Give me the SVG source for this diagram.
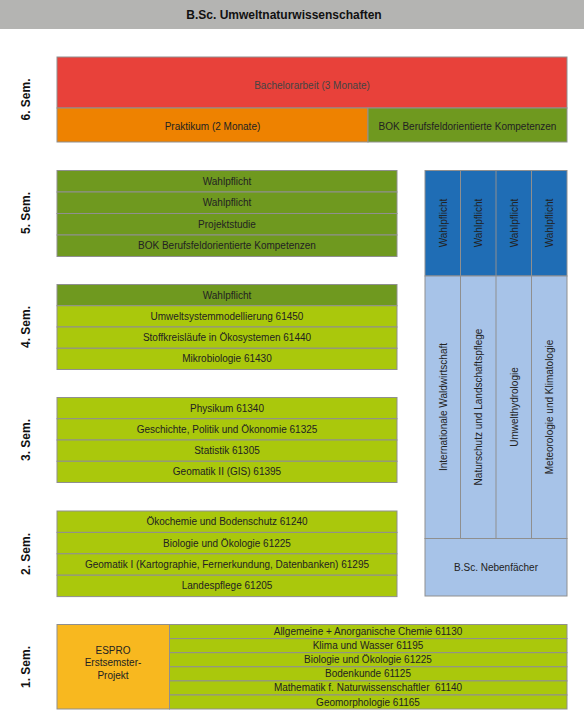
<svg xmlns="http://www.w3.org/2000/svg" width="584" height="710" viewBox="0 0 584 710">
<style>
text{font-family:"Liberation Sans",Arial,sans-serif;fill:#222;}
.t{font-size:10px;text-anchor:middle;}
.sem{font-size:12px;font-weight:bold;text-anchor:middle;fill:#111;}
.title{font-size:12px;font-weight:bold;text-anchor:middle;fill:#111;}
rect{stroke:#8f8f8f;stroke-width:1;}
.red{fill:#e8413a;}
.org{fill:#ee8200;}
.dg{fill:#6f991f;}
.lg{fill:#aac80c;}
.bl{fill:#1f6db5;}
.lb{fill:#a7c3e8;}
.yl{fill:#f8b81f;}
.ln{stroke:#8f8f8f;stroke-width:1;fill:none;}
</style>
<rect x="0" y="0" width="584" height="29" fill="#b4b4b2" style="stroke:none"/>
<text class="title" x="284" y="19">B.Sc. Umweltnaturwissenschaften</text>

<g id="labels">
<text class="sem" transform="translate(29.5,99.5) rotate(-90)">6. Sem.</text>
<text class="sem" transform="translate(29.5,213) rotate(-90)">5. Sem.</text>
<text class="sem" transform="translate(29.5,327) rotate(-90)">4. Sem.</text>
<text class="sem" transform="translate(29.5,440) rotate(-90)">3. Sem.</text>
<text class="sem" transform="translate(29.5,554) rotate(-90)">2. Sem.</text>
<text class="sem" transform="translate(29.5,667) rotate(-90)">1. Sem.</text>
</g>

<g id="sem6">
<rect class="red" x="57" y="57" width="510" height="51"/>
<text class="t" x="312" y="89" style="fill:#444">Bachelorarbeit (3 Monate)</text>
<rect class="org" x="57" y="108" width="311" height="34"/>
<text class="t" x="212.5" y="129.5">Praktikum (2 Monate)</text>
<rect class="dg" x="368" y="108" width="199" height="34"/>
<text class="t" x="467.5" y="129.5">BOK Berufsfeldorientierte Kompetenzen</text>
</g>

<g id="sem5">
<rect class="dg" x="57" y="170.5" width="340" height="21.5"/>
<text class="t" x="227" y="184.8">Wahlpflicht</text>
<rect class="dg" x="57" y="192" width="340" height="21.5"/>
<text class="t" x="227" y="206.3">Wahlpflicht</text>
<rect class="dg" x="57" y="213.5" width="340" height="21.5"/>
<text class="t" x="227" y="227.8">Projektstudie</text>
<rect class="dg" x="57" y="235" width="340" height="21.5"/>
<text class="t" x="227" y="249.3">BOK Berufsfeldorientierte Kompetenzen</text>
</g>

<g id="sem4">
<rect class="dg" x="57" y="284.5" width="340" height="21.25"/>
<text class="t" x="227" y="298.6">Wahlpflicht</text>
<rect class="lg" x="57" y="305.75" width="340" height="21.25"/>
<text class="t" x="227" y="319.9">Umweltsystemmodellierung 61450</text>
<rect class="lg" x="57" y="327" width="340" height="21.25"/>
<text class="t" x="227" y="341.1">Stoffkreisläufe in Ökosystemen 61440</text>
<rect class="lg" x="57" y="348.25" width="340" height="21.25"/>
<text class="t" x="227" y="362.4">Mikrobiologie 61430</text>
</g>

<g id="sem3">
<rect class="lg" x="57" y="397.5" width="340" height="21.25"/>
<text class="t" x="227" y="411.6">Physikum 61340</text>
<rect class="lg" x="57" y="418.75" width="340" height="21.25"/>
<text class="t" x="227" y="432.9">Geschichte, Politik und Ökonomie 61325</text>
<rect class="lg" x="57" y="440" width="340" height="21.25"/>
<text class="t" x="227" y="454.1">Statistik 61305</text>
<rect class="lg" x="57" y="461.25" width="340" height="21.25"/>
<text class="t" x="227" y="475.4">Geomatik II (GIS) 61395</text>
</g>

<g id="sem2">
<rect class="lg" x="57" y="511" width="340" height="21.4"/>
<text class="t" x="227" y="525.2">Ökochemie und Bodenschutz 61240</text>
<rect class="lg" x="57" y="532.4" width="340" height="21.4"/>
<text class="t" x="227" y="546.6">Biologie und Ökologie 61225</text>
<rect class="lg" x="57" y="553.8" width="340" height="21.4"/>
<text class="t" x="227" y="568">Geomatik I (Kartographie, Fernerkundung, Datenbanken) 61295</text>
<rect class="lg" x="57" y="575.2" width="340" height="21.4"/>
<text class="t" x="227" y="589.4">Landespflege 61205</text>
</g>

<g id="sem1">
<rect class="yl" x="57" y="624.5" width="112.5" height="84.5"/>
<text class="t" x="113" y="653.5">ESPRO</text>
<text class="t" x="113" y="666.3">Erstsemster-</text>
<text class="t" x="113" y="679.1">Projekt</text>
<rect class="lg" x="169.5" y="624.5" width="397.5" height="14.1"/>
<text class="t" x="368" y="635">Allgemeine + Anorganische Chemie 61130</text>
<rect class="lg" x="169.5" y="638.6" width="397.5" height="14.1"/>
<text class="t" x="368" y="649.1">Klima und Wasser 61195</text>
<rect class="lg" x="169.5" y="652.7" width="397.5" height="14.1"/>
<text class="t" x="368" y="663.2">Biologie und Ökologie 61225</text>
<rect class="lg" x="169.5" y="666.8" width="397.5" height="14.1"/>
<text class="t" x="368" y="677.3">Bodenkunde 61125</text>
<rect class="lg" x="169.5" y="680.9" width="397.5" height="14.1"/>
<text class="t" x="368" y="691.4" style="white-space:pre">Mathematik f. Naturwissenschaftler  61140</text>
<rect class="lg" x="169.5" y="695" width="397.5" height="14"/>
<text class="t" x="368" y="705.5">Geomorphologie 61165</text>
</g>

<g id="nebenfaecher">
<rect class="bl" x="425" y="170.5" width="142" height="105.5"/>
<rect class="lb" x="425" y="276" width="142" height="262.5"/>
<rect class="lb" x="425" y="538.5" width="142" height="57.5"/>
<g id="col-lines">
<line class="ln" x1="460.5" y1="170.5" x2="460.5" y2="538.5"/>
<line class="ln" x1="496" y1="170.5" x2="496" y2="538.5"/>
<line class="ln" x1="531.5" y1="170.5" x2="531.5" y2="538.5"/>
</g>
<text class="t" transform="translate(446.5,223) rotate(-90)">Wahlpflicht</text>
<text class="t" transform="translate(482,223) rotate(-90)">Wahlpflicht</text>
<text class="t" transform="translate(517.5,223) rotate(-90)">Wahlpflicht</text>
<text class="t" transform="translate(553,223) rotate(-90)">Wahlpflicht</text>
<text class="t" transform="translate(446.5,407) rotate(-90)">Internationale Waldwirtschaft</text>
<text class="t" transform="translate(482,407) rotate(-90)">Naturschutz und Landschaftspflege</text>
<text class="t" transform="translate(517.5,407) rotate(-90)">Umwelthydrologie</text>
<text class="t" transform="translate(553,407) rotate(-90)">Meteorologie und Klimatologie</text>
<text class="t" x="496" y="571">B.Sc. Nebenfächer</text>
</g>
</svg>
